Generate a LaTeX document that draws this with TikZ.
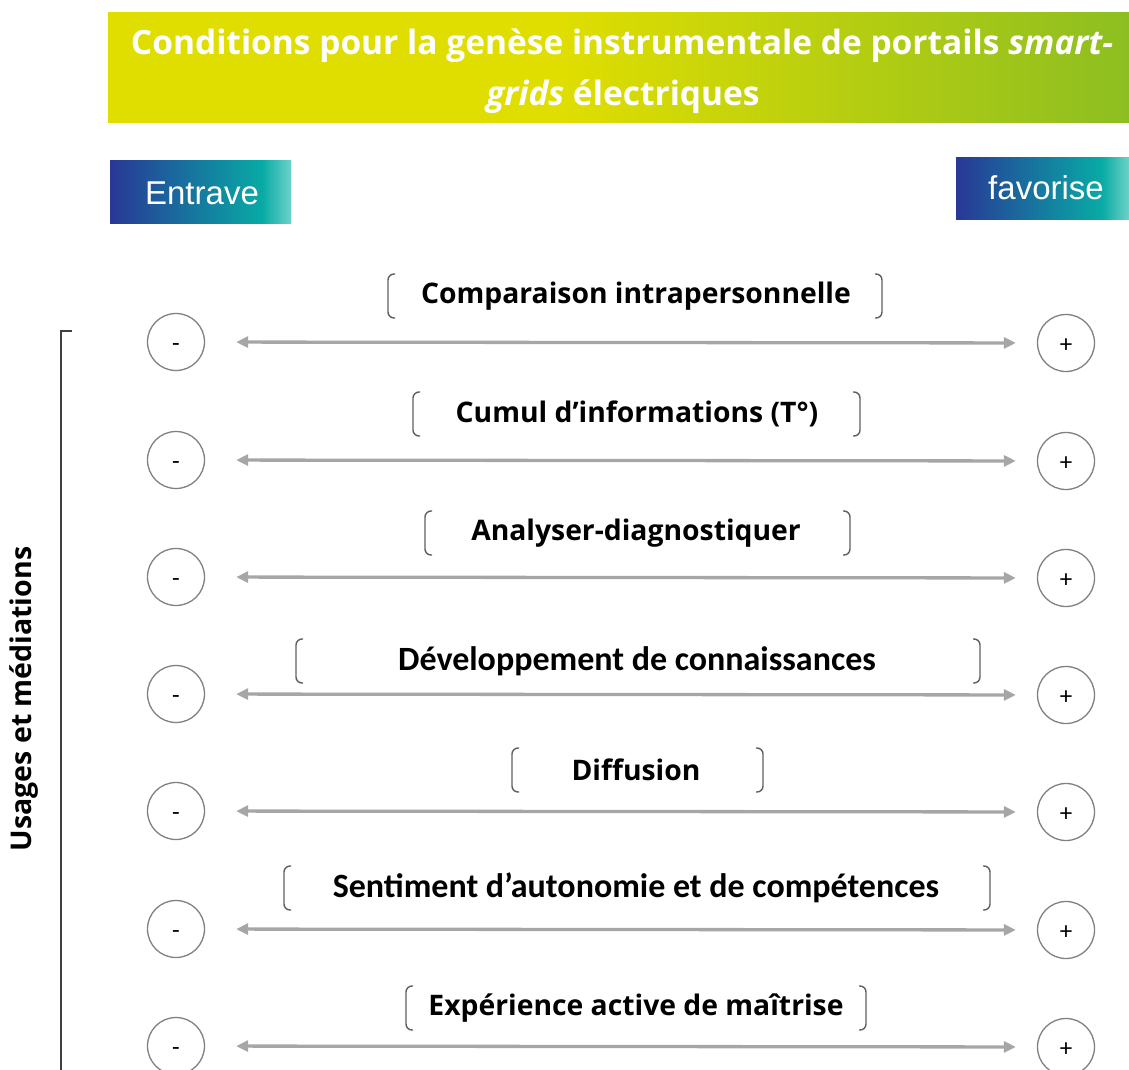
\documentclass[tikz,border=0pt]{standalone}
\usepackage{fontspec}
\setmainfont{Open Sans}
\newfontfamily\calib{Carlito}
\newfontfamily\arial{Liberation Sans}
\usetikzlibrary{arrows.meta}
\definecolor{tyel}{RGB}{224,222,0}
\definecolor{tgrn}{RGB}{141,190,33}
\definecolor{bdark}{RGB}{40,56,150}
\definecolor{bteal}{RGB}{8,170,165}
\definecolor{blight}{RGB}{110,210,200}
\definecolor{agray}{RGB}{166,166,166}
\definecolor{cgray}{RGB}{128,128,128}
\definecolor{bkgray}{RGB}{95,95,95}
\definecolor{bargray}{RGB}{64,64,64}
\pgfdeclarehorizontalshading{titlegrad}{100bp}{color(0bp)=(tyel); color(47bp)=(tyel); color(75bp)=(tgrn); color(100bp)=(tgrn)}
\pgfdeclarehorizontalshading{bluegrad}{100bp}{color(0bp)=(bdark); color(25bp)=(bdark); color(67bp)=(bteal); color(75bp)=(blight); color(100bp)=(blight)}
\tikzset{
  titletxt/.style={text=white, font=\bfseries\fontsize{33.5}{38}\selectfont, inner sep=0pt},
  tagbox/.style={shading=bluegrad, shading angle=0, inner sep=0pt, anchor=north west},
  tagtxt/.style={text=white, font=\arial\fontsize{33}{36}\selectfont, inner sep=0pt, anchor=base},
  circ/.style={circle, draw=cgray, line width=1.3pt, minimum size=57pt, inner sep=0pt, text height=18pt, text depth=0pt, font=\calib\fontsize{25}{25}\selectfont},
  arr/.style={draw=agray, line width=3.3pt, {Triangle[length=12pt,width=11pt,fill=agray]}-{Triangle[length=12pt,width=11pt,fill=agray]}, shorten <=31pt, shorten >=21pt},
  brk/.style={draw=bkgray, line width=1.4pt, rounded corners=6pt},
  lbl/.style={font=\bfseries\fontsize{28.3}{32}\selectfont, inner sep=0pt},
  lblc/.style={font=\calib\bfseries\fontsize{34}{38}\selectfont, inner sep=0pt},
  bar/.style={draw=bargray, line width=1.5pt}
}
\begin{document}
\begin{tikzpicture}[x=1pt,y=-1pt]
\useasboundingbox (0,0) rectangle (1129,1070);
% title
\node[shading=titlegrad, shading angle=0, minimum width=1021pt, minimum height=110pt, inner sep=0pt, anchor=north west] (titlebox) at (108,12) {};
\node[titletxt, anchor=base] (title1) at (622,55) {Conditions pour la genèse instrumentale de portails \textit{smart-}};
\node[titletxt, anchor=base] (title2) at (623,106) {\textit{grids} électriques};
% tags
\node[tagbox, minimum width=181pt, minimum height=63pt] (entravebox) at (110,160) {};
\node[tagtxt] (entrave) at (202,204) {Entrave};
\node[tagbox, minimum width=173pt, minimum height=62pt] (favorisebox) at (956,157) {};
\node[tagtxt] (favorise) at (1046,199) {favorise};
% rows
\foreach \i/\ya/\yl/\bl/\br in {1/342/296/388/882, 2/460/414/413/860, 3/577/533/425/850, 4/694/661/296/980, 5/811/770/512/763, 6/929/888/284/990, 7/1046/1008/406/866}{
  \node[circ] (m\i) at (176,\ya) {-};
  \node[circ] (p\i) at (1066,\ya+1) {+};
  \draw[arr] (m\i) -- (p\i);
  \draw[brk] (\bl+7,\yl-22) -- (\bl,\yl-22) -- (\bl,\yl+22) -- (\bl+7,\yl+22);
  \draw[brk] (\br-7,\yl-22) -- (\br,\yl-22) -- (\br,\yl+22) -- (\br-7,\yl+22);
}
\node[lbl] (l1) at (636,296) {Comparaison intrapersonnelle};
\node[lbl] (l2) at (637,414) {Cumul d’informations (T°)};
\node[lbl] (l3) at (636,533) {Analyser-diagnostiquer};
\node[lblc] (l4) at (637,661) {Développement de connaissances};
\node[lbl] (l5) at (636,770) {Diffusion};
\node[lblc] (l6) at (636,888) {Sentiment d’autonomie et de compétences};
\node[lbl] (l7) at (636,1008) {Expérience active de maîtrise};
% left bar
\coordinate (bartop) at (72,331);
\coordinate (barbot) at (61,1070);
\draw[bar] (bartop) -- (61,331) -- (barbot);
\node[rotate=90, font=\bfseries\fontsize{28.5}{28.5}\selectfont, inner sep=0pt] (usages) at (24,699) {Usages et médiations};
\end{tikzpicture}
\end{document}
